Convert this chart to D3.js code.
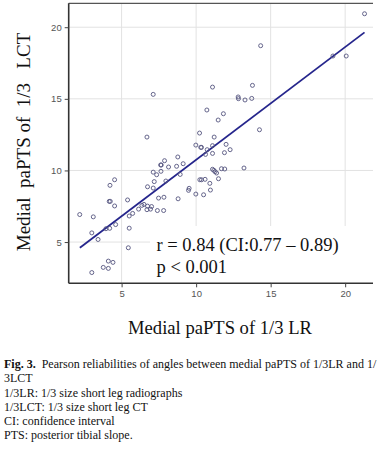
<!DOCTYPE html>
<html><head><meta charset="utf-8">
<script src="https://cdn.jsdelivr.net/npm/d3@7"></script>
<style>
html,body{margin:0;padding:0;background:#fff;}
svg{display:block;}
</style></head>
<body><svg id="c" width="380" height="456"></svg>
<script>
// ---- data ----
const lrValues = [21.30,20.07,19.18,14.33,7.12,11.10,13.78,12.82,12.84,13.28,13.73,10.72,11.83,11.48,10.23,11.21,14.25,6.70,9.98,10.31,10.36,11.10,12.01,10.74,12.28,11.10,11.90,10.63,8.77,7.88,9.13,8.15,8.69,7.62,7.66,7.64,7.12,7.35,8.93,11.10,11.19,11.27,11.37,11.70,11.92,13.21,10.25,10.36,10.60,10.92,11.50,9.53,9.49,10.96,9.98,10.50,4.53,4.22,7.19,6.74,7.12,7.97,8.79,4.17,4.24,4.53,5.40,2.19,3.10,5.74,5.51,6.36,6.50,6.74,7.01,6.70,6.94,6.14,7.40,7.48,7.84,7.82,3.00,3.42,3.95,4.20,4.60,5.51,5.45,4.11,4.42,3.77,4.11,3.00];
const lctValues = [20.94,17.99,17.99,18.71,15.31,15.82,15.94,15.13,15.01,14.92,15.03,14.22,13.96,13.52,12.61,12.33,12.84,12.33,11.77,11.61,11.61,11.73,11.82,11.45,11.45,11.19,11.24,11.12,10.94,10.68,10.47,10.24,10.29,10.38,10.38,9.94,9.88,9.70,9.72,10.08,10.01,9.91,9.82,10.12,10.10,10.17,9.35,9.35,9.38,9.10,9.42,8.75,8.61,8.63,8.35,8.30,9.35,8.96,9.22,8.86,8.77,9.26,8.02,7.84,7.84,7.52,7.94,6.92,6.76,7.00,6.82,7.56,7.63,7.51,7.48,7.26,7.30,7.30,7.20,8.07,8.13,7.20,5.64,5.18,5.93,5.96,6.22,5.97,4.60,3.67,3.58,3.23,3.16,2.87];
const fitX = [2.2, 21.3];
const fitY = [4.6, 19.64];
const xTicks = [5, 10, 15, 20];
const yTicks = [5, 10, 15, 20];
const statLines = ["r = 0.84 (CI:0.77 \u2013 0.89)", "p < 0.001"];
const xTitle = "Medial paPTS of 1/3 LR";
const yTitle = "Medial\u00a0\u00a0paPTS of\u00a0\u00a01/3\u00a0\u00a0\u00a0LCT";
const captionLines = [
  ["Fig. 3.", "\u00a0\u00a0Pearson reliabilities of angles between medial paPTS of 1/3LR and 1/"],
  ["", "3LCT"],
  ["", "1/3LR: 1/3 size short leg radiographs"],
  ["", "1/3LCT: 1/3 size short leg CT"],
  ["", "CI: confidence interval"],
  ["", "PTS: posterior tibial slope."]
];

// ---- layout ----
const L = 68.7, T = 3.3, R = 373, B = 283.3;
const svg = d3.select("#c");
const x = d3.scaleLinear().domain([1.45, 21.8]).range([L, L + (21.8-1.45)*14.904]);
const y = d3.scaleLinear().domain([2.12, 21.67]).range([B, T]);

// grid
const g = svg.append("g");
g.selectAll(".vg").data(xTicks).join("line")
  .attr("x1", d => x(d)).attr("x2", d => x(d)).attr("y1", T).attr("y2", B)
  .attr("stroke", "#e2e2e2").attr("stroke-width", 1);
g.selectAll(".hg").data(yTicks).join("line")
  .attr("x1", L).attr("x2", R).attr("y1", d => y(d)).attr("y2", d => y(d))
  .attr("stroke", "#e2e2e2").attr("stroke-width", 1);

// white box behind stats text
svg.append("rect").attr("x", 150).attr("y", 226).attr("width", R - 150).attr("height", B - 226 - 1).attr("fill", "#fff");

// top border
svg.append("line").attr("x1", L).attr("x2", R).attr("y1", T).attr("y2", T).attr("stroke", "#555").attr("stroke-width", 1.2);

// axes
const xAxis = svg.append("g").attr("transform", `translate(0,${B})`)
  .call(d3.axisBottom(x).tickValues(xTicks).tickSize(4).tickSizeOuter(0).tickPadding(3));
const yAxis = svg.append("g").attr("transform", `translate(${L},0)`)
  .call(d3.axisLeft(y).tickValues(yTicks).tickSize(4).tickSizeOuter(0).tickPadding(3));
[xAxis, yAxis].forEach(a => {
  a.select(".domain").attr("stroke", "#333").attr("stroke-width", 1.6);
  a.selectAll(".tick line").attr("stroke", "#444");
  a.selectAll("text").attr("fill", "#555").style("font-family", "'Liberation Sans Narrow','Arial Narrow',sans-serif").style("font-size", "9.5px");
});
xAxis.select(".domain").attr("d", `M${L},0H${R}`);
yAxis.select(".domain").attr("d", `M0,${B}V${T}`);

// fit line
svg.append("line")
  .attr("x1", x(fitX[0])).attr("y1", y(fitY[0]))
  .attr("x2", x(fitX[1])).attr("y2", y(fitY[1]))
  .attr("stroke", "#25258c").attr("stroke-width", 1.8);

// points
svg.append("g").selectAll("circle").data(lrValues.map((v, i) => [v, lctValues[i]])).join("circle")
  .attr("cx", d => x(d[0])).attr("cy", d => y(d[1])).attr("r", 2)
  .attr("fill", "none").attr("stroke", "#55557f").attr("stroke-width", 0.9);

// stats text
svg.append("g").selectAll("text").data(statLines).join("text")
  .attr("x", 156.5).attr("y", (d, i) => 251 + i * 22.3)
  .style("font-family", "'Liberation Serif','Times New Roman',serif").style("font-size", "18.5px")
  .attr("fill", "#111").text(d => d);

// axis titles
svg.append("text").attr("x", (128 + 312) / 2).attr("y", 334).attr("text-anchor", "middle")
  .style("font-family", "'Liberation Serif','Times New Roman',serif").style("font-size", "18.6px")
  .attr("fill", "#111").text(xTitle);
svg.append("text").attr("transform", "translate(30,142) rotate(-90)").attr("text-anchor", "middle")
  .style("font-family", "'Liberation Serif','Times New Roman',serif").style("font-size", "19px")
  .attr("fill", "#111").text(yTitle);

// caption
const cap = svg.append("g").style("font-family", "'Liberation Serif','Times New Roman',serif").style("font-size", "12px").attr("fill", "#111");
captionLines.forEach((ln, i) => {
  const t = cap.append("text").attr("x", 4).attr("y", 368.3 + i * 14.1);
  if (ln[0]) t.append("tspan").style("font-weight", "bold").text(ln[0]);
  t.append("tspan").text(ln[1]);
});
</script></body></html>
